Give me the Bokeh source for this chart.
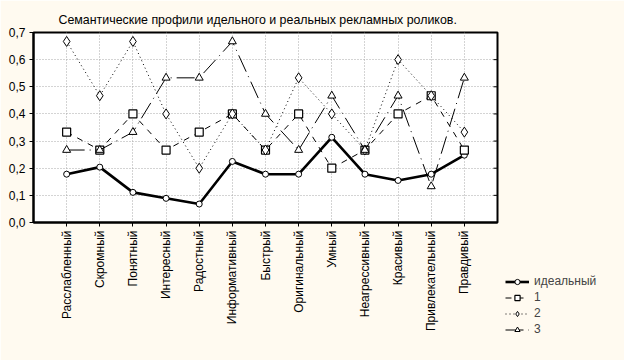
from bokeh.plotting import figure
from bokeh.models import (Range1d, FixedTicker, CustomJSTickFormatter, Legend, LegendItem)
from bokeh.embed import file_html
from bokeh.resources import INLINE
import math

categories = ["Расслабленный", "Скромный", "Понятный", "Интересный", "Радостный",
              "Информативный", "Быстрый", "Оригинальный", "Умный", "Неагрессивный",
              "Красивый", "Привлекательный", "Правдивый"]
ideal = [0.178, 0.204, 0.111, 0.089, 0.068, 0.225, 0.178, 0.178, 0.314, 0.178, 0.155, 0.178, 0.248]
s1 = [0.333, 0.267, 0.400, 0.267, 0.333, 0.400, 0.267, 0.400, 0.200, 0.267, 0.400, 0.467, 0.267]
s2 = [0.667, 0.467, 0.667, 0.400, 0.200, 0.400, 0.267, 0.533, 0.400, 0.267, 0.600, 0.467, 0.333]
s3 = [0.267, 0.267, 0.333, 0.533, 0.533, 0.667, 0.400, 0.267, 0.467, 0.267, 0.467, 0.133, 0.533]
y_ticks = [0.0, 0.1, 0.2, 0.3, 0.4, 0.5, 0.6, 0.7]
title_text = "Семантические профили идельного и реальных рекламных роликов."
names = ["идеальный", "1", "2", "3"]

FONT = "Liberation Sans"
BG = "#FFFAF0"

xs = list(range(1, len(categories) + 1))
x_end = len(categories) + 1

p = figure(width=624, height=360, output_backend="svg", toolbar_location=None,
           x_range=Range1d(0, x_end), y_range=Range1d(0, 0.7),
           min_border_left=33, min_border_top=32, min_border_right=127, min_border_bottom=138)
p.frame_width = 464
p.frame_height = 190
p.background_fill_color = "white"
p.border_fill_color = BG
p.outline_line_color = "black"
p.outline_line_width = 2

p.title.text = title_text
p.title.text_font = FONT
p.title.text_font_size = "12.4px"
p.title.text_font_style = "normal"
p.title.text_color = "black"
p.title.align = "left"
p.title.offset = 25
p.title.standoff = 12

p.xaxis.ticker = FixedTicker(ticks=xs)
p.xaxis.major_label_overrides = {x: c for x, c in zip(xs, categories)}
p.xaxis.major_label_orientation = math.pi / 2
p.yaxis.ticker = FixedTicker(ticks=y_ticks)
p.yaxis.formatter = CustomJSTickFormatter(code="return tick.toFixed(1).replace('.', ',');")
for ax in (p.xaxis[0], p.yaxis[0]):
    ax.axis_line_color = "black"
    ax.axis_line_width = 2
    ax.major_tick_line_color = "black"
    ax.major_tick_in = 0
    ax.major_tick_out = 4
    ax.minor_tick_line_color = None
    ax.major_label_text_font = FONT
    ax.major_label_text_font_size = "12px"
    ax.major_label_text_color = "black"
    ax.major_label_standoff = 4

p.grid.grid_line_color = "#a8a8a8"
p.grid.grid_line_dash = "1 2"
p.grid.grid_line_width = 1
p.xgrid.ticker = FixedTicker(ticks=xs)
p.ygrid.ticker = FixedTicker(ticks=y_ticks)

# inward tick marks on the right edge of the frame
p.scatter([x_end] * len(y_ticks), y_ticks, marker="dash", size=8, line_color="black", line_width=1)

r_i_l = p.line(xs, ideal, line_color="black", line_width=2.6)
r_i_m = p.scatter(xs, ideal, marker="circle", size=6, fill_color="white", line_color="black", line_width=1)
r_1_l = p.line(xs, s1, line_color="black", line_width=1, line_dash="6 6")
r_1_m = p.scatter(xs, s1, marker="square", size=8, fill_color="white", line_color="black", line_width=1.2)
r_2_l = p.line(xs, s2, line_color="black", line_width=1, line_dash="1 3")
r_2_m = p.scatter(xs, s2, marker="diamond", size=10, fill_color="white", line_color="black", line_width=1)
r_3_l = p.line(xs, s3, line_color="black", line_width=1, line_dash="18 5 1 5")
r_3_m = p.scatter(xs, s3, marker="triangle", size=8, fill_color="white", line_color="black", line_width=1)

legend = Legend(items=[
    LegendItem(label=names[0], renderers=[r_i_l, r_i_m]),
    LegendItem(label=names[1], renderers=[r_1_l, r_1_m]),
    LegendItem(label=names[2], renderers=[r_2_l, r_2_m]),
    LegendItem(label=names[3], renderers=[r_3_l, r_3_m]),
], location=(8, -114))
legend.background_fill_alpha = 0
legend.border_line_color = None
legend.label_text_font = FONT
legend.label_text_font_size = "12px"
legend.label_height = 13
legend.glyph_height = 13
legend.glyph_width = 24
legend.spacing = 2
legend.padding = 0
legend.margin = 0
legend.label_standoff = 5
p.add_layout(legend, "right")

open("out.html", "w").write(file_html(p, INLINE))
